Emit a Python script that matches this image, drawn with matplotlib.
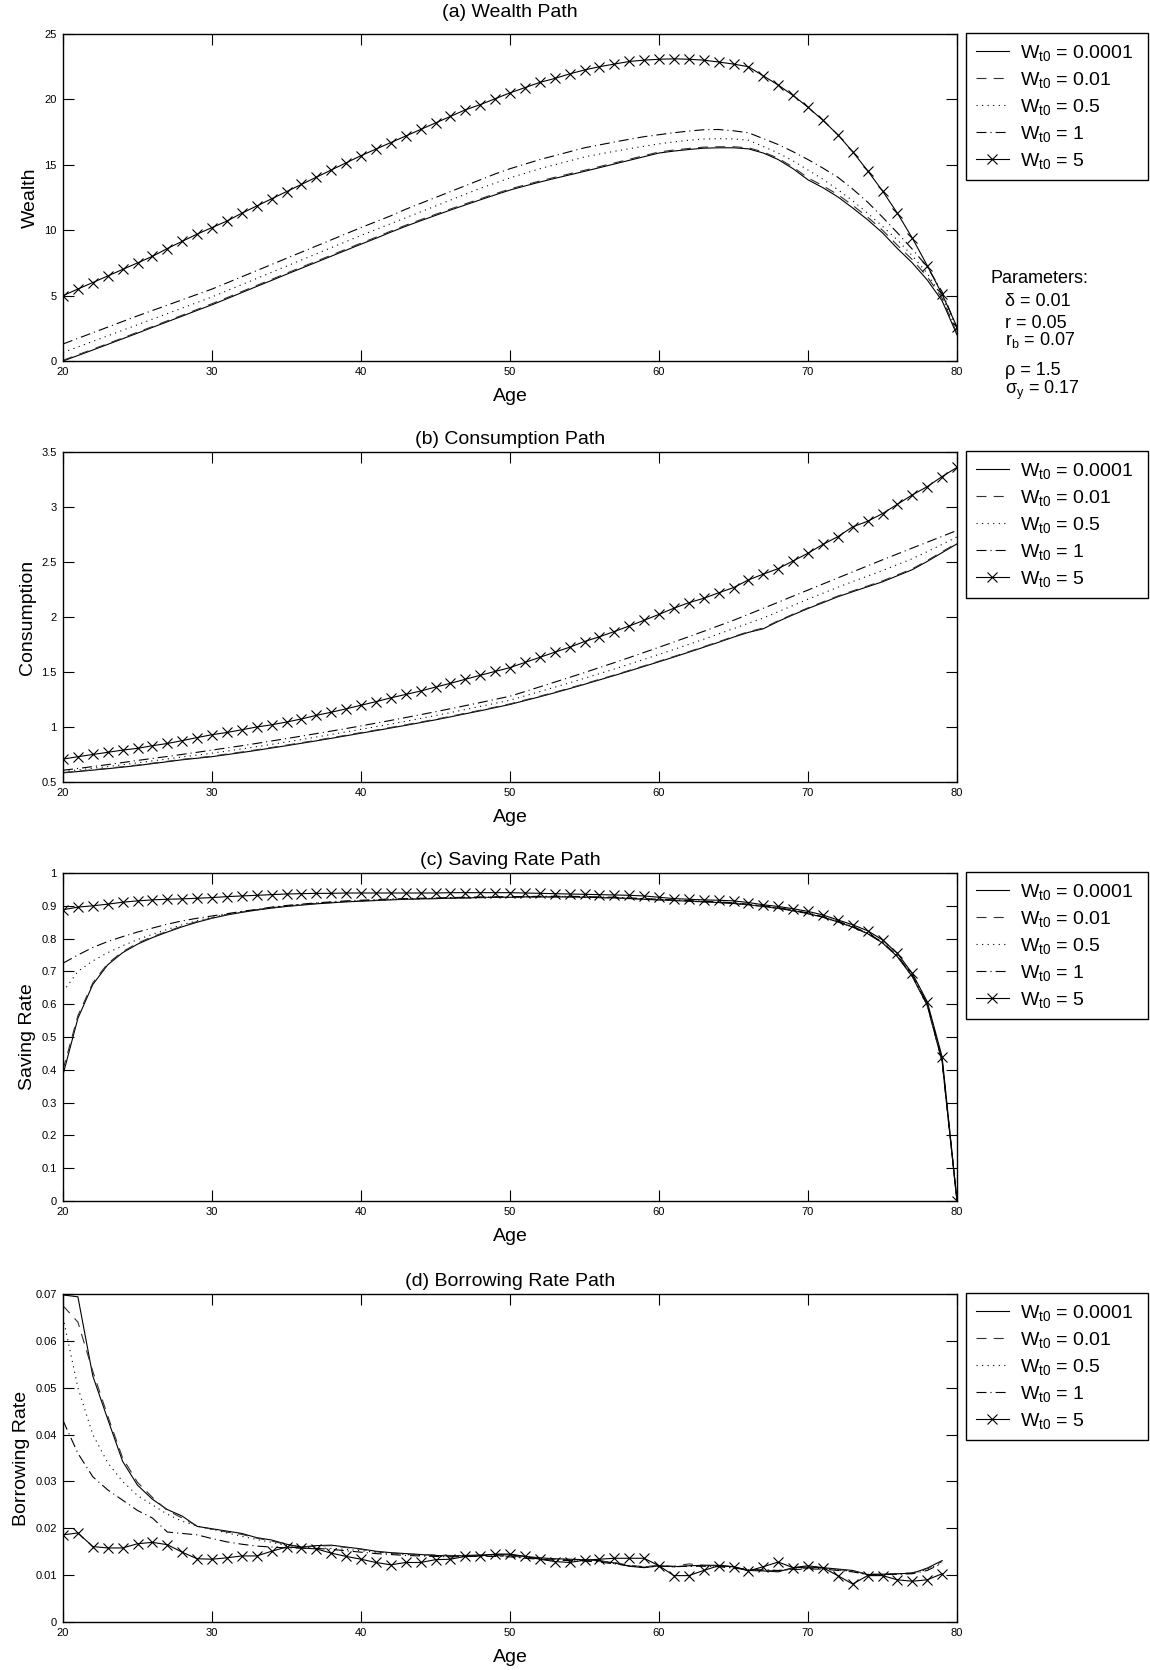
import matplotlib
matplotlib.use("Agg")
import matplotlib.pyplot as plt
from matplotlib.ticker import FuncFormatter

plt.rcParams['font.family'] = ['Liberation Sans', 'DejaVu Sans']
plt.rcParams['mathtext.fontset'] = 'custom'
plt.rcParams['mathtext.rm'] = 'Liberation Sans'
plt.rcParams['mathtext.it'] = 'Liberation Sans:italic'
plt.rcParams['mathtext.bf'] = 'Liberation Sans:bold'

# ---------------- data ----------------
ages = list(range(20, 81))
ages_b = list(range(20, 80))
labels = [r'W$_{\mathrm{t0}}$ = 0.0001', r'W$_{\mathrm{t0}}$ = 0.01', r'W$_{\mathrm{t0}}$ = 0.5',
          r'W$_{\mathrm{t0}}$ = 1', r'W$_{\mathrm{t0}}$ = 5']

wealth_w0001 = [0.0, 0.42, 0.84, 1.27, 1.7, 2.13, 2.57, 3.0, 3.43, 3.87, 4.3, 4.76, 5.23, 5.7, 6.16,
                6.63, 7.09, 7.55, 8.01, 8.47, 8.93, 9.38, 9.85, 10.3, 10.72, 11.13, 11.54, 11.93, 12.32, 12.7,
                13.07, 13.38, 13.68, 13.96, 14.23, 14.5, 14.78, 15.06, 15.34, 15.62, 15.9, 16.05, 16.17, 16.27, 16.3,
                16.3, 16.22, 15.9, 15.4, 14.7, 13.85, 13.25, 12.55, 11.7, 10.8, 9.8, 8.6, 7.5, 6.2, 4.6, 2.0]
wealth_w001 = [0.05, 0.48, 0.9, 1.33, 1.76, 2.2, 2.63, 3.07, 3.5, 3.94, 4.38, 4.84, 5.31, 5.78, 6.24,
               6.71, 7.17, 7.63, 8.09, 8.55, 9.01, 9.46, 9.93, 10.38, 10.8, 11.21, 11.62, 12.01, 12.4, 12.78,
               13.15, 13.46, 13.76, 14.04, 14.31, 14.58, 14.86, 15.14, 15.42, 15.7, 15.98, 16.13, 16.25, 16.35, 16.38,
               16.38, 16.3, 15.98, 15.5, 14.82, 14.0, 13.4, 12.72, 11.9, 11.0, 10.0, 8.85, 7.75, 6.45, 4.8, 2.1]
wealth_w05 = [0.65, 1.07, 1.5, 1.92, 2.35, 2.77, 3.2, 3.62, 4.05, 4.47, 4.9, 5.37, 5.84, 6.31, 6.78,
              7.25, 7.72, 8.19, 8.66, 9.13, 9.6, 10.05, 10.5, 10.95, 11.4, 11.85, 12.3, 12.75, 13.2, 13.6,
              14.0, 14.35, 14.7, 15.0, 15.3, 15.6, 15.82, 16.03, 16.23, 16.42, 16.6, 16.75, 16.88, 16.97, 17.0,
              16.98, 16.88, 16.4, 15.9, 15.3, 14.6, 13.9, 13.1, 12.25, 11.3, 10.3, 9.25, 8.05, 6.7, 4.9, 2.3]
wealth_w1 = [1.3, 1.73, 2.16, 2.59, 3.02, 3.45, 3.86, 4.27, 4.68, 5.09, 5.5, 5.97, 6.44, 6.91, 7.38,
             7.85, 8.32, 8.79, 9.26, 9.73, 10.2, 10.65, 11.1, 11.6, 12.05, 12.5, 12.95, 13.4, 13.85, 14.3,
             14.7, 15.05, 15.4, 15.7, 16.0, 16.3, 16.52, 16.74, 16.95, 17.15, 17.3, 17.45, 17.58, 17.68, 17.7,
             17.6, 17.45, 17.0, 16.55, 16.0, 15.4, 14.75, 14.05, 13.15, 12.15, 11.0, 9.8, 8.55, 7.2, 5.3, 2.5]
wealth_w5 = [5.0, 5.5, 6.0, 6.5, 7.0, 7.5, 8.0, 8.6, 9.15, 9.7, 10.2, 10.7, 11.3, 11.85, 12.4,
             12.95, 13.5, 14.05, 14.6, 15.15, 15.7, 16.2, 16.7, 17.2, 17.7, 18.2, 18.7, 19.2, 19.6, 20.05,
             20.5, 20.9, 21.3, 21.6, 21.95, 22.25, 22.5, 22.7, 22.9, 23.0, 23.07, 23.1, 23.07, 23.0, 22.86,
             22.7, 22.5, 21.8, 21.1, 20.3, 19.4, 18.4, 17.3, 16.0, 14.55, 13.0, 11.3, 9.4, 7.3, 5.1, 2.6]

cons_w0001 = [0.583, 0.595, 0.608, 0.621, 0.635, 0.65, 0.667, 0.684, 0.702, 0.716, 0.73, 0.749, 0.768, 0.788, 0.809,
              0.83, 0.852, 0.874, 0.897, 0.92, 0.944, 0.967, 0.991, 1.015, 1.04, 1.065, 1.092, 1.12, 1.147, 1.176,
              1.205, 1.24, 1.275, 1.311, 1.349, 1.388, 1.428, 1.468, 1.509, 1.551, 1.593, 1.636, 1.68, 1.725, 1.77,
              1.817, 1.86, 1.893, 1.96, 2.02, 2.077, 2.13, 2.184, 2.23, 2.275, 2.32, 2.375, 2.43, 2.505, 2.585, 2.665]
cons_w001 = [0.586, 0.598, 0.611, 0.625, 0.639, 0.654, 0.671, 0.688, 0.706, 0.72, 0.735, 0.754, 0.773, 0.793, 0.814,
             0.835, 0.857, 0.879, 0.902, 0.925, 0.949, 0.972, 0.996, 1.02, 1.045, 1.07, 1.097, 1.125, 1.152, 1.181,
             1.21, 1.245, 1.28, 1.316, 1.354, 1.393, 1.433, 1.473, 1.514, 1.556, 1.598, 1.641, 1.685, 1.73, 1.775,
             1.822, 1.866, 1.9, 1.966, 2.026, 2.083, 2.137, 2.19, 2.237, 2.282, 2.328, 2.383, 2.438, 2.513, 2.593, 2.673]
cons_w05 = [0.596, 0.61, 0.625, 0.64, 0.657, 0.674, 0.692, 0.709, 0.728, 0.745, 0.762, 0.781, 0.801, 0.821, 0.842,
            0.864, 0.886, 0.909, 0.932, 0.955, 0.979, 1.003, 1.027, 1.052, 1.078, 1.104, 1.131, 1.159, 1.187, 1.215,
            1.244, 1.283, 1.322, 1.362, 1.402, 1.443, 1.485, 1.527, 1.571, 1.615, 1.66, 1.705, 1.751, 1.798, 1.846,
            1.894, 1.943, 1.99, 2.048, 2.105, 2.162, 2.216, 2.27, 2.322, 2.372, 2.422, 2.476, 2.53, 2.594, 2.66, 2.728]
cons_w1 = [0.607, 0.623, 0.64, 0.658, 0.677, 0.696, 0.714, 0.732, 0.751, 0.77, 0.79, 0.81, 0.83, 0.851, 0.873,
           0.895, 0.917, 0.94, 0.963, 0.986, 1.01, 1.035, 1.06, 1.086, 1.112, 1.139, 1.166, 1.194, 1.222, 1.251,
           1.28, 1.322, 1.365, 1.408, 1.451, 1.495, 1.54, 1.585, 1.631, 1.678, 1.725, 1.773, 1.821, 1.87, 1.92,
           1.97, 2.024, 2.079, 2.134, 2.19, 2.245, 2.3, 2.355, 2.41, 2.465, 2.52, 2.573, 2.627, 2.68, 2.733, 2.787]
cons_w5 = [0.708, 0.73, 0.75, 0.77, 0.79, 0.806, 0.83, 0.85, 0.876, 0.904, 0.93, 0.95, 0.975, 1.0, 1.02,
           1.045, 1.073, 1.106, 1.134, 1.165, 1.198, 1.23, 1.265, 1.296, 1.327, 1.363, 1.397, 1.434, 1.47, 1.505,
           1.54, 1.587, 1.633, 1.68, 1.725, 1.777, 1.82, 1.868, 1.918, 1.97, 2.024, 2.08, 2.13, 2.17, 2.22,
           2.267, 2.337, 2.39, 2.44, 2.51, 2.58, 2.66, 2.73, 2.82, 2.87, 2.94, 3.025, 3.11, 3.185, 3.277, 3.36]

save_w0001 = [0.385, 0.557, 0.66, 0.72, 0.757, 0.783, 0.803, 0.82, 0.836, 0.85, 0.862, 0.872, 0.88, 0.887, 0.893,
              0.898, 0.902, 0.906, 0.909, 0.912, 0.914, 0.916, 0.918, 0.92, 0.921, 0.922, 0.923, 0.924, 0.925, 0.926,
              0.926, 0.927, 0.927, 0.927, 0.927, 0.926, 0.925, 0.924, 0.922, 0.92, 0.918, 0.916, 0.914, 0.912, 0.91,
              0.907, 0.903, 0.898, 0.892, 0.885, 0.876, 0.865, 0.851, 0.835, 0.815, 0.787, 0.745, 0.684, 0.597, 0.425, 0.0]
save_w001 = [0.40, 0.565, 0.665, 0.724, 0.76, 0.786, 0.806, 0.822, 0.838, 0.852, 0.863, 0.873, 0.881, 0.888, 0.894,
             0.899, 0.903, 0.907, 0.91, 0.913, 0.915, 0.917, 0.919, 0.92, 0.921, 0.922, 0.923, 0.924, 0.925, 0.926,
             0.926, 0.927, 0.927, 0.927, 0.927, 0.926, 0.925, 0.924, 0.922, 0.92, 0.918, 0.916, 0.914, 0.912, 0.91,
             0.907, 0.903, 0.898, 0.892, 0.885, 0.876, 0.865, 0.851, 0.835, 0.815, 0.787, 0.745, 0.684, 0.597, 0.425, 0.0]
save_w05 = [0.638, 0.70, 0.732, 0.757, 0.778, 0.797, 0.813, 0.828, 0.842, 0.855, 0.865, 0.874, 0.882, 0.888, 0.894,
            0.9, 0.904, 0.908, 0.911, 0.913, 0.915, 0.917, 0.919, 0.921, 0.922, 0.923, 0.924, 0.925, 0.926, 0.927,
            0.927, 0.928, 0.928, 0.928, 0.928, 0.927, 0.926, 0.925, 0.923, 0.921, 0.919, 0.917, 0.915, 0.913, 0.911,
            0.908, 0.904, 0.899, 0.893, 0.886, 0.877, 0.866, 0.852, 0.836, 0.816, 0.788, 0.746, 0.686, 0.6, 0.428, 0.0]
save_w1 = [0.725, 0.75, 0.773, 0.791, 0.806, 0.82, 0.832, 0.844, 0.854, 0.862, 0.869, 0.876, 0.883, 0.889, 0.896,
           0.901, 0.905, 0.909, 0.912, 0.915, 0.917, 0.919, 0.921, 0.922, 0.923, 0.924, 0.925, 0.926, 0.927, 0.927,
           0.928, 0.928, 0.929, 0.929, 0.929, 0.928, 0.927, 0.926, 0.924, 0.922, 0.92, 0.918, 0.916, 0.914, 0.912,
           0.909, 0.905, 0.9, 0.894, 0.887, 0.878, 0.867, 0.853, 0.837, 0.817, 0.789, 0.748, 0.688, 0.602, 0.43, 0.0]
save_w5 = [0.888, 0.896, 0.9, 0.905, 0.911, 0.915, 0.918, 0.92, 0.921, 0.923, 0.925, 0.928, 0.93, 0.932, 0.934,
           0.936, 0.937, 0.938, 0.938, 0.939, 0.939, 0.939, 0.939, 0.939, 0.939, 0.939, 0.94, 0.94, 0.94, 0.94,
           0.94, 0.939, 0.938, 0.937, 0.936, 0.935, 0.934, 0.933, 0.932, 0.93, 0.926, 0.922, 0.92, 0.918, 0.917,
           0.915, 0.91, 0.903, 0.898, 0.891, 0.883, 0.872, 0.857, 0.842, 0.824, 0.796, 0.755, 0.694, 0.608, 0.44, 0.0]

borr_w0001 = [0.0698, 0.0694, 0.0525, 0.0433, 0.0343, 0.0292, 0.0262, 0.024, 0.0226, 0.0204, 0.0199, 0.0194,
              0.0189, 0.018, 0.0175, 0.0166, 0.016, 0.0163, 0.0164, 0.016, 0.0156, 0.0151, 0.0148, 0.0146, 0.0144,
              0.0142, 0.0141, 0.0142, 0.0143, 0.0144, 0.0143, 0.014, 0.0137, 0.0135, 0.0134, 0.0133, 0.0131, 0.0126,
              0.0119, 0.0116, 0.012, 0.0118, 0.012, 0.0121, 0.0121, 0.0118, 0.011, 0.0109, 0.0107, 0.0116, 0.0117,
              0.0116, 0.0113, 0.011, 0.0101, 0.0102, 0.0103, 0.0104, 0.0115, 0.0131]
borr_w001 = [0.0675, 0.064, 0.0535, 0.044, 0.035, 0.0298, 0.0266, 0.0238, 0.0222, 0.0205, 0.0198, 0.0192,
             0.0187, 0.0179, 0.0173, 0.0165, 0.016, 0.0162, 0.0163, 0.0159, 0.0155, 0.015, 0.0147, 0.0145, 0.0144,
             0.0143, 0.0142, 0.0141, 0.0142, 0.0142, 0.0141, 0.0138, 0.0136, 0.0134, 0.0133, 0.0132, 0.013, 0.0127,
             0.0121, 0.0118, 0.0121, 0.0119, 0.0124, 0.0121, 0.012, 0.0117, 0.0111, 0.011, 0.0109, 0.0114, 0.0115,
             0.0115, 0.0112, 0.0109, 0.0102, 0.0102, 0.0103, 0.0105, 0.0114, 0.0129]
borr_w05 = [0.065, 0.050, 0.040, 0.034, 0.030, 0.027, 0.025, 0.023, 0.0215, 0.0205, 0.0198, 0.019,
            0.0183, 0.0176, 0.017, 0.0163, 0.016, 0.0158, 0.0157, 0.0155, 0.0152, 0.0149, 0.0146, 0.0144, 0.0142,
            0.0141, 0.014, 0.014, 0.0141, 0.0141, 0.014, 0.0137, 0.0135, 0.0133, 0.0132, 0.0131, 0.0129, 0.0125,
            0.012, 0.0117, 0.0119, 0.0118, 0.0119, 0.012, 0.0119, 0.0116, 0.0112, 0.0111, 0.011, 0.0113, 0.0114,
            0.0114, 0.0111, 0.0108, 0.0102, 0.0101, 0.0102, 0.0104, 0.0112, 0.0127]
borr_w1 = [0.043, 0.036, 0.031, 0.0282, 0.026, 0.0238, 0.0222, 0.0192, 0.0189, 0.0186, 0.0178, 0.0171,
           0.0166, 0.0162, 0.016, 0.0158, 0.0158, 0.0157, 0.0155, 0.0152, 0.0149, 0.0146, 0.0144, 0.0142, 0.0141,
           0.014, 0.0139, 0.014, 0.014, 0.014, 0.0139, 0.0136, 0.0134, 0.0132, 0.0131, 0.013, 0.0128, 0.0124,
           0.012, 0.0117, 0.0119, 0.0118, 0.0119, 0.0119, 0.0118, 0.0115, 0.0112, 0.0111, 0.011, 0.0112, 0.0113,
           0.0113, 0.011, 0.0107, 0.0101, 0.0101, 0.0102, 0.0103, 0.011, 0.0125]
borr_w5 = [0.0186, 0.019, 0.0161, 0.0158, 0.0158, 0.0167, 0.017, 0.0165, 0.0149, 0.0135, 0.0134, 0.0137,
           0.0141, 0.0141, 0.0151, 0.016, 0.0158, 0.0156, 0.0147, 0.014, 0.0134, 0.0127, 0.0122, 0.0127, 0.0127,
           0.0133, 0.0134, 0.014, 0.0141, 0.0145, 0.0145, 0.014, 0.0134, 0.0129, 0.0127, 0.0132, 0.0134, 0.0136,
           0.0136, 0.0136, 0.012, 0.0099, 0.0099, 0.011, 0.012, 0.0118, 0.0109, 0.0118, 0.0128, 0.0116, 0.012,
           0.0116, 0.0099, 0.0081, 0.0099, 0.0099, 0.009, 0.0087, 0.009, 0.0103]

panels = [
    ('(a) Wealth Path', 'Wealth', ages, [wealth_w0001, wealth_w001, wealth_w05, wealth_w1, wealth_w5],
     (0, 25), [0, 5, 10, 15, 20, 25]),
    ('(b) Consumption Path', 'Consumption', ages, [cons_w0001, cons_w001, cons_w05, cons_w1, cons_w5],
     (0.5, 3.5), [0.5, 1, 1.5, 2, 2.5, 3, 3.5]),
    ('(c) Saving Rate Path', 'Saving Rate', ages, [save_w0001, save_w001, save_w05, save_w1, save_w5],
     (0, 1), [0, 0.1, 0.2, 0.3, 0.4, 0.5, 0.6, 0.7, 0.8, 0.9, 1]),
    ('(d) Borrowing Rate Path', 'Borrowing Rate', ages_b, [borr_w0001, borr_w001, borr_w05, borr_w1, borr_w5],
     (0, 0.07), [0, 0.01, 0.02, 0.03, 0.04, 0.05, 0.06, 0.07]),
]

styles = [
    dict(linestyle='-', color='black'),
    dict(linestyle=(0, (9, 6.5)), color='#303030'),
    dict(linestyle=(0, (1, 4)), color='black'),
    dict(linestyle=(0, (9, 3.6, 1, 3.6)), color='black'),
    dict(linestyle='-', color='black', marker='x', markersize=7, markeredgewidth=0.8),
]

W, H = 1150, 1670
fig = plt.figure(figsize=(W / 100, H / 100), dpi=100)

tops = [34, 452, 873, 1294]
bottoms = [361, 782, 1201, 1622]
title_pads = [12, 6, 6, 6]
left_px, right_px = 63, 957

for (title, ylabel, x, series, ylim, yticks), top, bot, tpad in zip(panels, tops, bottoms, title_pads):
    ax = fig.add_axes([left_px / W, 1 - bot / H, (right_px - left_px) / W, (bot - top) / H])
    for ys, st, lab in zip(series, styles, labels):
        ax.plot(x, ys, linewidth=0.8, label=lab, **st)
    ax.set_xlim(20, 80)
    ax.set_ylim(*ylim)
    ax.set_xticks([20, 30, 40, 50, 60, 70, 80])
    ax.set_yticks(yticks)
    ax.yaxis.set_major_formatter(FuncFormatter(lambda v, p: '%g' % round(v, 4)))
    ax.tick_params(direction='in', top=True, right=True, length=8, width=0.8,
                   labelsize=8, pad=4.5)
    for sp in ax.spines.values():
        sp.set_linewidth(1.0)
    ax.set_title(title, fontsize=14, pad=tpad)
    ax.set_xlabel('Age', fontsize=14, labelpad=8)
    ax.set_ylabel(ylabel, fontsize=14, labelpad=4)
    leg_top = 1 - (top - 1) / H
    leg = ax.legend(loc='upper left', bbox_to_anchor=(966 / W, leg_top - 0.1, 182 / W, 0.1),
                    bbox_transform=fig.transFigure, mode='expand', borderaxespad=0,
                    fontsize=14, handlelength=1.7, handletextpad=0.6, labelspacing=0.36,
                    borderpad=0.5, fancybox=False, framealpha=1, edgecolor='black')
    leg.get_frame().set_linewidth(1.0)

# Parameters text
fig.text(990.5 / W, 1 - 283 / H, 'Parameters:', fontsize=13, va='baseline', ha='left')
param_lines = [('δ = 0.01', 306), ('r = 0.05', 328), (r'r$_{\mathrm{b}}$ = 0.07', 345),
               ('ρ = 1.5', 375), (r'σ$_{\mathrm{y}}$ = 0.17', 394)]
for txt, yb in param_lines:
    fig.text(1005 / W, 1 - yb / H, txt, fontsize=13, va='baseline', ha='left')

fig.savefig('out.png', dpi=100)
